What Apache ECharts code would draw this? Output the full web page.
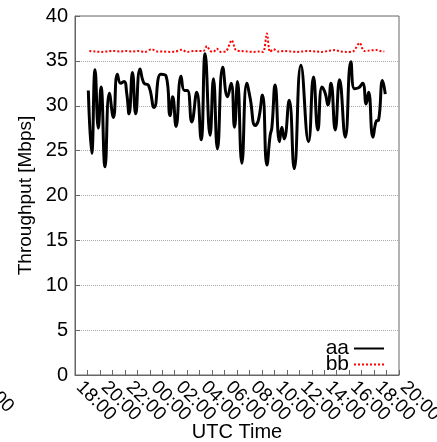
<!DOCTYPE html>
<html>
<head>
<meta charset="utf-8">
<script src="https://cdn.jsdelivr.net/npm/echarts@6/dist/echarts.min.js"></script>
<style>
  html, body { margin: 0; padding: 0; background: #fff; }
  #chart { width: 437px; height: 442px; }
</style>
</head>
<body>
<div id="chart"></div>
<script>
// hours since 18:00 UTC on day 1
const xLabels = ['18:00', '20:00', '22:00', '00:00', '02:00', '04:00', '06:00',
  '08:00', '10:00', '12:00', '14:00', '16:00', '18:00', '20:00'];

const aaHours = [1.07, 1.34, 1.61, 1.87, 2.09, 2.41, 2.76, 3.08, 3.40, 3.67, 3.94, 4.15, 4.34, 4.61, 4.87,
  5.22, 5.54, 5.89, 6.35, 6.88, 7.31, 7.63, 7.84, 8.11, 8.51, 8.78, 9.02, 9.37, 9.77, 10.12, 10.44,
  10.84, 11.11, 11.43, 11.86, 12.24, 12.53, 12.80, 13.04, 13.39, 13.79, 14.06, 14.46, 14.72, 15.04,
  15.40, 15.66, 15.80, 16.06, 16.41, 16.60, 16.79, 17.19, 17.59, 18.13, 18.74, 19.14, 19.49, 19.82,
  20.08, 20.30, 20.54, 20.88, 21.23, 21.69, 22.14, 22.43, 22.76, 23.08, 23.37, 23.56, 23.91, 24.18,
  24.36, 24.68, 24.90];
const aaValues = [31.7, 24.7, 34.0, 27.5, 32.1, 23.2, 31.4, 28.7, 33.5, 32.5, 32.7, 31.4, 29.1, 33.7, 29.1,
  34.1, 32.5, 32.3, 29.8, 33.5, 33.3, 28.9, 31.0, 27.7, 33.3, 31.7, 31.7, 28.2, 31.5, 26.2, 35.8,
  26.7, 33.0, 25.2, 34.3, 31.0, 32.5, 27.6, 32.7, 23.6, 32.5, 30.8, 27.8, 28.4, 31.2,
  23.4, 26.7, 27.6, 32.3, 26.0, 27.6, 26.3, 30.6, 23.0, 34.5, 26.0, 33.2, 27.3, 32.1,
  31.4, 30.1, 32.5, 27.3, 32.9, 26.5, 34.9, 31.9, 32.0, 32.5, 30.2, 31.5, 26.5, 28.3,
  28.4, 32.8, 31.3];

const bbHours = [1.15, 1.6, 2.1, 2.6, 3.1, 3.6, 4.1, 4.6, 5.1, 5.6, 6.16, 6.6, 7.1, 7.6, 8.1, 8.57, 9.0,
  9.5, 10.0, 10.3, 10.58, 10.85, 11.1, 11.38, 11.7, 12.1, 12.58, 12.9, 13.3, 13.8, 14.3, 14.8, 15.1,
  15.4, 15.65, 15.93, 16.3, 16.8, 17.3, 17.8, 18.3, 18.8, 19.3, 19.8, 20.3, 20.88, 21.3, 21.8, 22.3,
  22.84, 23.2, 23.6, 24.2, 24.5, 24.82];
const bbValues = [36.1, 36.05, 36.0, 36.05, 36.1, 36.05, 36.1, 36.05, 36.1, 36.0, 36.3, 36.05, 36.05, 36.0,
  36.05, 36.25, 36.0, 36.1, 36.1, 36.1, 36.65, 36.1, 36.0, 36.35, 36.0, 36.05, 37.3, 36.2, 36.1, 36.05,
  36.0, 36.05, 36.0, 38.05, 36.0, 36.3, 36.05, 36.1, 36.05, 36.0, 36.05, 36.1, 36.05, 36.0, 36.1, 36.2,
  36.05, 36.0, 36.05, 37.0, 36.1, 36.15, 36.2, 36.1, 36.05];

const font = 'Liberation Sans, Arial, Helvetica, sans-serif';
const chart = echarts.init(document.getElementById('chart'));

chart.setOption({
  animation: false,
  textStyle: { fontFamily: font },
  grid: {
    left: 75, right: 38, top: 16, bottom: 67, show: true, borderColor: '#666', borderWidth: 1,
    containLabel: false, outerBoundsMode: 'none'
  },
  legend: {
    orient: 'vertical', right: 47, top: 333, align: 'right', itemGap: -5,
    itemWidth: 30, itemHeight: 14,
    itemStyle: { opacity: 0 },
    textStyle: { fontSize: 21, color: '#000', fontFamily: font },
    data: ['aa', 'bb']
  },
  xAxis: [{
    // hour scale used by the data, with a tick each hour
    type: 'value', min: 0, max: 26, interval: 2,
    axisLine: { lineStyle: { color: '#666' } },
    axisTick: { inside: true, length: 5, lineStyle: { color: '#666' } },
    minorTick: { show: true, splitNumber: 2, length: 5, lineStyle: { color: '#666' } },
    splitLine: { show: false },
    axisLabel: { show: false }
  }, {
    // labels only, every 2 hours
    type: 'category', data: xLabels, boundaryGap: false, position: 'bottom',
    name: 'UTC Time', nameLocation: 'middle', nameGap: 47, nameMoveOverlap: false,
    nameTextStyle: { fontSize: 20, color: '#000', fontFamily: font },
    axisLine: { show: false }, axisTick: { show: false }, splitLine: { show: false },
    axisLabel: {
      interval: 0, rotate: -45, fontSize: 19, color: '#000', margin: 5,
      padding: [0, 0, 0, 6], fontFamily: font
    }
  }],
  yAxis: {
    type: 'value', min: 0, max: 40, interval: 5,
    name: 'Throughput [Mbps]', nameLocation: 'middle', nameGap: 33,
    nameTextStyle: { fontSize: 19, color: '#000', fontFamily: font },
    axisLine: { show: true, lineStyle: { color: '#666' } },
    axisTick: { show: true, inside: true, length: 5, lineStyle: { color: '#666' } },
    splitLine: { show: true, lineStyle: { color: '#aaa', type: 'dotted', width: 1 } },
    axisLabel: { fontSize: 20, color: '#000', margin: 7, fontFamily: font }
  },
  graphic: [{
    type: 'text', x: -23, y: 376, rotation: -Math.PI / 4,
    style: { text: '16:00', font: '19px ' + font, fill: '#000', verticalAlign: 'middle', align: 'left' }
  }],
  series: [
    {
      name: 'aa', type: 'line', xAxisIndex: 0, smooth: 0.5, showSymbol: false, symbol: 'none',
      data: aaHours.map((h, i) => [h, aaValues[i]]),
      lineStyle: { color: '#000', width: 3 },
      itemStyle: { color: '#000' }
    },
    {
      name: 'bb', type: 'line', xAxisIndex: 0, smooth: 0.3, showSymbol: false, symbol: 'none',
      data: bbHours.map((h, i) => [h, bbValues[i]]),
      lineStyle: { color: '#ff0000', width: 2, type: 'dotted' },
      itemStyle: { color: '#ff0000' }
    }
  ]
});
</script>
</body>
</html>
